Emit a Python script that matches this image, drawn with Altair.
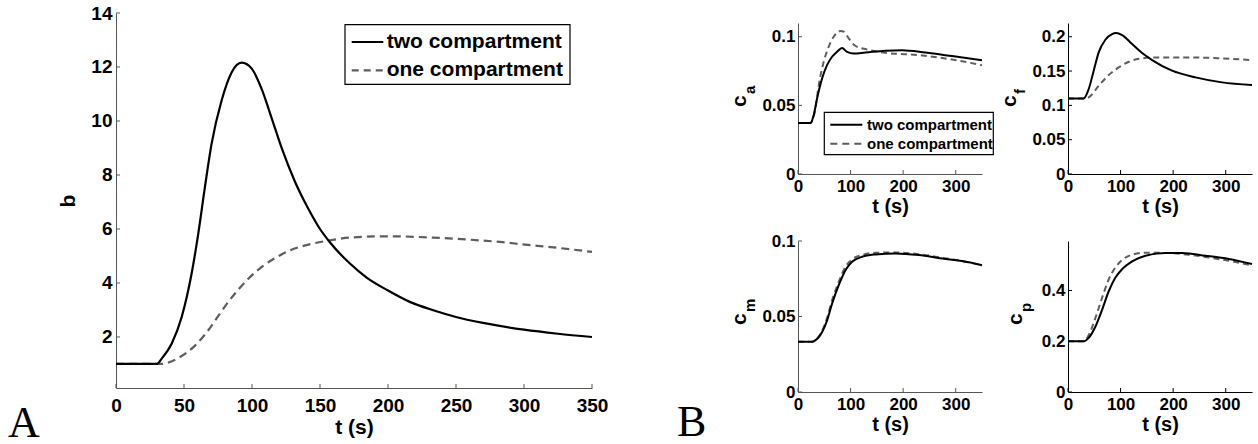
import altair as alt
import pandas as pd

SERIES = ["two compartment", "one compartment"]
X_TICKS_A = [0, 50, 100, 150, 200, 250, 300, 350]
Y_TICKS_A = [2, 4, 6, 8, 10, 12, 14]
X_TICKS_B = [0, 100, 200, 300]

# Panel A: b
t_two_A = [0, 30, 33.6, 40.9, 48.3, 55.6, 60.5, 65.4, 70.3, 77.7, 85, 92.4, 99.8, 107, 114.5,
           121.8, 131.6, 141.4, 150, 157.4, 172, 184.3, 199.7, 216, 233.3, 250, 270, 300, 325, 350]
b_two_A = [1.0, 1.0, 1.2, 1.75, 2.74, 4.35, 5.83, 7.56, 9.16, 10.77, 11.8, 12.16, 11.94, 11.2, 10.1,
           9.0, 7.75, 6.75, 6.0, 5.5, 4.72, 4.2, 3.73, 3.3, 2.99, 2.74, 2.52, 2.27, 2.12, 2.0]
t_one_A = [0, 33, 45.8, 58.1, 67.9, 75.2, 82.6, 90, 97.3, 107, 116.9, 126.7, 141.4, 157.4, 172,
           201.5, 233.3, 257.8, 282.4, 300.7, 325, 350]
b_one_A = [1.0, 1.0, 1.22, 1.68, 2.25, 2.78, 3.3, 3.76, 4.16, 4.59, 4.92, 5.18, 5.42, 5.58, 5.68,
           5.73, 5.68, 5.61, 5.52, 5.42, 5.3, 5.15]

# Panel B: c_a
t_two_ca = [0, 23.5, 29.8, 36.2, 45.7, 55.2, 64.8, 74.3, 83.8, 93.3, 106, 128, 166, 198, 242.5, 293, 350]
c_two_ca = [0.0371, 0.0371, 0.0427, 0.0549, 0.0695, 0.0793, 0.0854, 0.089, 0.0917, 0.089, 0.0878,
            0.0885, 0.0898, 0.0902, 0.0885, 0.0859, 0.0828]
t_one_ca = [0, 23.5, 33, 39.4, 48.9, 58.4, 67.9, 80.6, 87, 96.5, 109, 128, 166, 230, 293, 350]
c_one_ca = [0.0371, 0.0371, 0.0476, 0.0646, 0.0817, 0.0927, 0.1, 0.1041, 0.1037, 0.0988, 0.0934,
            0.091, 0.0883, 0.0866, 0.0834, 0.0792]

# c_f
t_two_cf = [0, 29.8, 39.4, 48.9, 58.4, 71, 83.8, 91.4, 102.9, 121.9, 141, 160, 198, 242.5, 293, 350]
c_two_cf = [0.110, 0.110, 0.1238, 0.1505, 0.1772, 0.1956, 0.2039, 0.2053, 0.2024, 0.1893, 0.1762,
            0.166, 0.1505, 0.1408, 0.1335, 0.1296]
t_one_cf = [0, 30, 39.4, 58.4, 77.5, 96.5, 115.6, 141, 166, 230, 293, 350]
c_one_cf = [0.110, 0.110, 0.1117, 0.1286, 0.1442, 0.1553, 0.1636, 0.1684, 0.1699, 0.1699, 0.1684, 0.166]

# c_m
t_two_cm = [0, 26.7, 36.2, 45.7, 55.2, 64.8, 77.5, 90.2, 102.9, 121.9, 147.3, 185.4, 230, 274, 312, 350]
c_two_cm = [0.0333, 0.0333, 0.0351, 0.0396, 0.0473, 0.0584, 0.0707, 0.0807, 0.0862, 0.0896, 0.0911,
            0.0918, 0.0907, 0.0884, 0.0867, 0.084]
t_one_cm = [0, 26.7, 36.2, 45.7, 55.2, 64.8, 77.5, 90.2, 102.9, 121.9, 147.3, 185.4, 230, 274, 312, 350]
c_one_cm = [0.0333, 0.0333, 0.0353, 0.0404, 0.0489, 0.0607, 0.0729, 0.0829, 0.0878, 0.0907, 0.0922,
            0.0924, 0.0913, 0.0889, 0.0867, 0.084]

# c_p
t_two_cp = [0, 29.8, 39.4, 52, 64.8, 77.5, 90.2, 102.9, 121.9, 147.3, 185.4, 217, 261.6, 306, 350]
c_two_cp = [0.2, 0.2, 0.2133, 0.2573, 0.324, 0.397, 0.451, 0.484, 0.515, 0.537, 0.548, 0.548, 0.537,
            0.524, 0.504]
t_one_cp = [0, 29.8, 39.4, 52, 64.8, 77.5, 90.2, 102.9, 121.9, 147.3, 185.4, 230, 274, 312, 350]
c_one_cp = [0.2, 0.2, 0.224, 0.291, 0.371, 0.444, 0.491, 0.52, 0.541, 0.549, 0.548, 0.541, 0.528,
            0.515, 0.499]

FONT = "Liberation Sans"
DASH_GRAY = "#5e5e5e"
ONE = pd.DataFrame({"k": [0]})


def txt(s, x, y, size, angle=0, align="left", baseline="middle", font=FONT, weight="bold"):
    return alt.Chart(pd.DataFrame({"s": [s]})).mark_text(
        font=font, fontSize=size, fontWeight=weight, color="black", angle=angle,
        align=align, baseline=baseline
    ).encode(text="s:N", x=alt.value(x), y=alt.value(y))


def legend(x0, x1, y0, y1, rows, lx0, lx1, tx, fs, dash, lw):
    box = alt.Chart(ONE).mark_rect(fill="white", stroke="black", strokeWidth=1.2).encode(
        x=alt.value(x0), x2=alt.value(x1), y=alt.value(y0), y2=alt.value(y1))
    l1 = alt.Chart(ONE).mark_rule(color="black", strokeWidth=lw).encode(
        x=alt.value(lx0), x2=alt.value(lx1), y=alt.value(rows[0]))
    l2 = alt.Chart(ONE).mark_rule(color=DASH_GRAY, strokeWidth=lw, strokeDash=dash).encode(
        x=alt.value(lx0), x2=alt.value(lx1), y=alt.value(rows[1]))
    t1 = txt(SERIES[0], tx, rows[0], fs)
    t2 = txt(SERIES[1], tx, rows[1], fs)
    return [box, l1, l2, t1, t2]


def panel(t2, v2, t1, v1, w, h, ydom, yticks, xticks, lab_fs, title_fs, dash, lw, axc,
          lab_pad_x, title_pad_x, lab_pad_y, ytitle=None, title_pad_y=0, extra=None, fmt="~g"):
    xs = alt.Scale(domain=[0, 350], nice=False, zero=False)
    ys = alt.Scale(domain=ydom, nice=False, zero=False)
    common = dict(grid=False, ticks=False, domainColor=axc, domainWidth=1, labelFont=FONT,
                  labelFontWeight="bold", labelColor="black", labelFontSize=lab_fs,
                  titleFont=FONT, titleFontWeight="bold", titleColor="black",
                  titleFontSize=title_fs, labelFlush=False, labelOverlap=False, labelBound=False)
    xaxis = alt.Axis(values=xticks, format="d", title="t (s)", labelPadding=lab_pad_x,
                     titlePadding=title_pad_x, **common)
    yaxis = alt.Axis(values=yticks, format=fmt, title=ytitle if ytitle else "",
                     labelPadding=lab_pad_y, titlePadding=title_pad_y, **common)
    X = alt.X("t:Q", scale=xs, axis=xaxis)
    Y = alt.Y("v:Q", scale=ys, axis=yaxis)
    solid = alt.Chart(pd.DataFrame({"t": t2, "v": v2})).mark_line(
        color="black", strokeWidth=lw, interpolate="monotone").encode(x=X, y=Y)
    dashed = alt.Chart(pd.DataFrame({"t": t1, "v": v1})).mark_line(
        color=DASH_GRAY, strokeWidth=lw, strokeDash=dash, interpolate="monotone").encode(x=X, y=Y)
    xt = alt.Chart(pd.DataFrame({"t": xticks})).mark_rule(color=axc, strokeWidth=1).encode(
        x=X, y=alt.value(h), y2=alt.value(h - 4))
    yt = alt.Chart(pd.DataFrame({"v": yticks})).mark_rule(color=axc, strokeWidth=1).encode(
        y=Y, x=alt.value(0), x2=alt.value(4))
    layers = [xt, yt, dashed, solid] + (extra or [])
    return alt.layer(*layers).properties(width=w, height=h)


def ylabel(sub, cx, top):
    # "c" with subscript, rotated
    c = txt("c", cx, top, 21, angle=270, align="left")
    s = txt(sub, cx + 10, top - 13, 15, angle=270, align="left")
    return [c, s]


# Panel A
corner = alt.Chart(ONE).mark_rect(opacity=0).encode(
    x=alt.value(-116), x2=alt.value(-115), y=alt.value(-13), y2=alt.value(-12))
extraA = legend(229, 454, 11.6, 71.3, [29, 57.3], 235.7, 267.3, 270.7, 21, [7, 5], 2.2)
extraA += [txt("A", -108, 424, 44, font="Liberation Serif", weight="normal", baseline="alphabetic"), corner]
panelA = panel(t_two_A, b_two_A, t_one_A, b_one_A, 476, 375, [0.11, 14], Y_TICKS_A, X_TICKS_A,
               19, 21, [8, 5], 2.2, "#555555", 8, 1, 4, ytitle="b", title_pad_y=12,
               extra=extraA, fmt="d")

extra_ca = legend(26.3, 195.3, 89.4, 131.7, [101.7, 120.7], 32.3, 64.3, 69, 15, [7, 5], 2)
extra_ca += ylabel("a", -58, 84)
p_ca = panel(t_two_ca, c_two_ca, t_one_ca, c_one_ca, 184, 151, [0, 0.11], [0, 0.05, 0.1],
             X_TICKS_B, 17, 20, [6, 4], 2, "#555555", 4, 2, 3, extra=extra_ca)
p_cf = panel(t_two_cf, c_two_cf, t_one_cf, c_one_cf, 184, 151, [0, 0.22],
             [0, 0.05, 0.1, 0.15, 0.2], X_TICKS_B, 17, 20, [6, 4], 2, "black", 4, 2, 3,
             extra=ylabel("f", -58, 84))
extra_cm = ylabel("m", -58, 84)
extra_cm += [txt("B", -121, 195, 44, font="Liberation Serif", weight="normal", baseline="alphabetic")]
p_cm = panel(t_two_cm, c_two_cm, t_one_cm, c_one_cm, 184, 151, [0, 0.1], [0, 0.05, 0.1],
             X_TICKS_B, 17, 20, [6, 4], 2, "#555555", 4, 2, 3, extra=extra_cm)
p_cp = panel(t_two_cp, c_two_cp, t_one_cp, c_one_cp, 184, 151, [0, 0.595], [0, 0.2, 0.4],
             X_TICKS_B, 17, 20, [6, 4], 2, "black", 4, 2, 3, extra=ylabel("p", -52, 84))

spacer = alt.Chart(ONE).mark_point(opacity=0).encode(x=alt.value(0), y=alt.value(0)).properties(
    width=184, height=10)

grid = alt.concat(p_ca, p_cf, p_cm, p_cp, columns=2, spacing={"row": 67, "column": 86},
                  bounds="flush")
panelB = alt.vconcat(spacer, grid, spacing=0, bounds="flush")

chart = alt.hconcat(panelA, panelB, spacing=206, bounds="flush").properties(
    padding=0, background="white"
).configure_view(stroke=None)

chart.save("out.html", embed_options={"renderer": "svg", "actions": False})
